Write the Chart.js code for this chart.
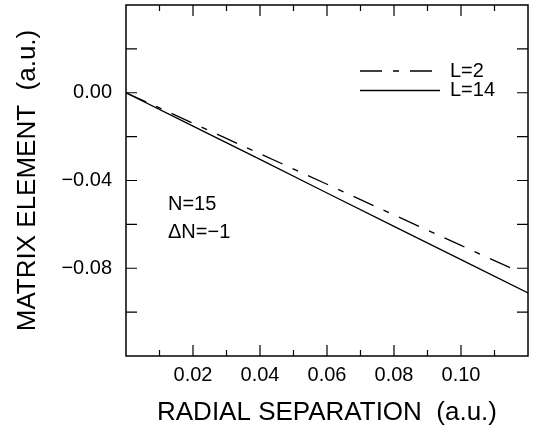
<!DOCTYPE html>
<html>
<head>
<meta charset="utf-8">
<script src="https://cdn.jsdelivr.net/npm/chart.js@4"></script>
<style>
  html, body { margin: 0; padding: 0; background: #fff; }
  #wrap { width: 534px; height: 432px; }
</style>
</head>
<body>
<div id="wrap"><canvas id="myChart" width="534" height="432"></canvas></div>
<script>
// radial separation (a.u.)
const sepL2 = [0, 0.02, 0.04, 0.06, 0.08, 0.10, 0.1176];
const elemL2 = [0, -0.0139, -0.0278, -0.0417, -0.0557, -0.0696, -0.0818];
const sepL14 = [0, 0.02, 0.04, 0.06, 0.08, 0.10, 0.12];
const elemL14 = [0, -0.0152, -0.0304, -0.0457, -0.0609, -0.0761, -0.0913];
const seriesLabels = ['L=2', 'L=14'];
const xLabelTicks = [0.02, 0.04, 0.06, 0.08, 0.10];
const yLabelTicks = [0, -0.04, -0.08];
const notes = ['N=15', '\u0394N=\u22121'];

const FONT = '"Liberation Sans", Arial, sans-serif';

function toPoints(xs, ys) {
  return xs.map((x, i) => ({x: x, y: ys[i]}));
}
function near(v, list) {
  return list.some(t => Math.abs(t - v) < 1e-6);
}

// frame, inward ticks on all sides, legend and the N labels
const framePlugin = {
  id: 'frame',
  afterDraw(chart) {
    const ctx = chart.ctx;
    const a = chart.chartArea;
    const xs = chart.scales.x, ys = chart.scales.y;
    ctx.save();
    ctx.strokeStyle = '#000';
    ctx.lineWidth = 1.5;
    ctx.strokeRect(a.left, a.top, a.right - a.left, a.bottom - a.top);

    ctx.lineWidth = 1.2;
    ctx.beginPath();
    xs.ticks.forEach(t => {
      if (t.value <= 0.0001 || t.value >= 0.1199) return;
      const px = xs.getPixelForValue(t.value);
      const major = Math.round(t.value * 100) % 2 === 0;
      const len = major ? 11 : 6;
      ctx.moveTo(px, a.bottom); ctx.lineTo(px, a.bottom - len);
      ctx.moveTo(px, a.top); ctx.lineTo(px, a.top + len);
    });
    ys.ticks.forEach(t => {
      if (t.value >= 0.0399 || t.value <= -0.1199) return;
      const py = ys.getPixelForValue(t.value);
      ctx.moveTo(a.left, py); ctx.lineTo(a.left + 11, py);
      ctx.moveTo(a.right, py); ctx.lineTo(a.right - 11, py);
    });
    ctx.stroke();

    // legend
    ctx.font = '20px ' + FONT;
    ctx.fillStyle = '#000';
    ctx.textBaseline = 'middle';
    chart.data.datasets.forEach((ds, i) => {
      const y = 71 + i * 19.5;
      ctx.beginPath();
      ctx.lineWidth = 1.3;
      ctx.setLineDash(ds.borderDash || []);
      ctx.moveTo(360, y); ctx.lineTo(440, y);
      ctx.stroke();
      ctx.setLineDash([]);
      ctx.fillText(ds.label, 450, y);
    });

    ctx.fillText(notes[0], 168, 204);
    ctx.fillText(notes[1], 168, 232);
    ctx.restore();
  }
};

new Chart(document.getElementById('myChart'), {
  type: 'line',
  data: {
    datasets: [
      {
        label: seriesLabels[0],
        data: toPoints(sepL2, elemL2),
        borderColor: '#000',
        borderWidth: 1.3,
        borderDash: [22, 11, 6, 11],
        pointRadius: 0,
        fill: false
      },
      {
        label: seriesLabels[1],
        data: toPoints(sepL14, elemL14),
        borderColor: '#000',
        borderWidth: 1.3,
        pointRadius: 0,
        fill: false
      }
    ]
  },
  options: {
    responsive: false,
    animation: false,
    layout: { padding: { top: 5, right: 6, left: 0, bottom: 0 } },
    plugins: { legend: { display: false }, tooltip: { enabled: false } },
    scales: {
      x: {
        type: 'linear',
        min: 0,
        max: 0.12,
        grid: { display: false, drawTicks: false },
        border: { display: false },
        ticks: {
          stepSize: 0.01,
          autoSkip: false,
          maxRotation: 0,
          padding: 7,
          color: '#000',
          font: { family: FONT, size: 20 },
          callback: v => near(v, xLabelTicks) ? v.toFixed(2) : ''
        },
        title: {
          display: true,
          text: 'RADIAL SEPARATION  (a.u.)',
          color: '#000',
          font: { family: FONT, size: 26 },
          padding: { top: 0, bottom: 4 }
        },
        afterFit: s => { s.height = 76; s.paddingLeft = 0; s.paddingRight = 0; }
      },
      y: {
        min: -0.12,
        max: 0.04,
        grid: { display: false, drawTicks: false },
        border: { display: false },
        ticks: {
          stepSize: 0.02,
          autoSkip: false,
          padding: 14,
          color: '#000',
          font: { family: FONT, size: 20 },
          callback: v => near(v, yLabelTicks) ? (v < 0 ? '\u2212' : '') + Math.abs(v).toFixed(2) : ''
        },
        title: {
          display: true,
          text: 'MATRIX ELEMENT  (a.u.)',
          color: '#000',
          font: { family: FONT, size: 26 },
          padding: { top: 12, bottom: 0 }
        },
        afterFit: s => { s.width = 126; s.paddingTop = 0; s.paddingBottom = 0; }
      }
    }
  },
  plugins: [framePlugin]
});
</script>
</body>
</html>
